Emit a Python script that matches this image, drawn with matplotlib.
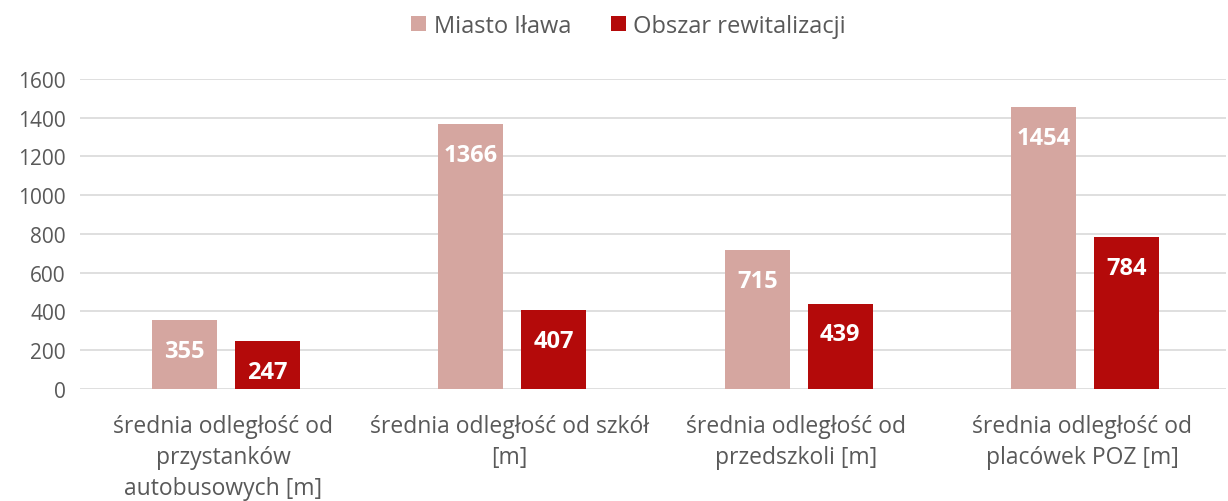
import numpy as np
import matplotlib
import matplotlib.pyplot as plt

matplotlib.rcParams.update({
    "font.family": ["Open Sans", "DejaVu Sans"],
    "font.size": 15,
})

# data
categories = [
    "średnia odległość od\nprzystanków\nautobusowych [m]",
    "średnia odległość od szkół\n[m]",
    "średnia odległość od\nprzedszkoli [m]",
    "średnia odległość od\nplacówek POZ [m]",
]
miasto = [355, 1366, 715, 1454]
obszar = [247, 407, 439, 784]
series_names = ["Miasto Iława", "Obszar rewitalizacji"]

C_LIGHT = "#D5A6A0"
C_DARK = "#B40A0A"
TXT = "#595959"
GRID = "#D9D9D9"

fig = plt.figure(figsize=(12.28, 5.02), dpi=100)
ax = fig.add_axes([0.065, 0.223, 0.933, 0.618])

x = np.arange(len(categories))
w = 0.227
off = 0.145

b1 = ax.bar(x - off + 0.01, miasto, w, color=C_LIGHT, label=series_names[0], zorder=3)
b2 = ax.bar(x + off + 0.01, obszar, w, color=C_DARK, label=series_names[1], zorder=3)

# value labels just inside the top of each bar
for bars in (b1, b2):
    for r in bars:
        h = r.get_height()
        ax.annotate(f"{h:g}", (r.get_x() + r.get_width() / 2, h),
                    xytext=(0, -22), textcoords="offset points",
                    ha="center", va="center", color="white",
                    fontweight="bold", fontsize=17, zorder=4)

ax.set_xlim(-0.5, len(categories) - 0.5)
ax.set_ylim(0, 1600)
ax.set_yticks(range(0, 1601, 200))
ax.yaxis.grid(True, color=GRID, linewidth=1.2, zorder=0)
ax.set_axisbelow(True)
ax.set_xticks(x)
ax.set_xticklabels(categories, linespacing=1.38, fontsize=16.5)
ax.tick_params(axis="both", length=0, colors=TXT)
ax.tick_params(axis="y", labelsize=15, pad=10)
ax.tick_params(axis="x", pad=18)
for s in ax.spines.values():
    s.set_visible(False)

ax.legend(loc="upper center", bbox_to_anchor=(0.479, 1.278), ncol=2,
          frameon=False, handlelength=0.65, handleheight=0.65,
          columnspacing=1.7, handletextpad=0.3, labelcolor=TXT, fontsize=17)

fig.savefig("out.png", dpi=100)
